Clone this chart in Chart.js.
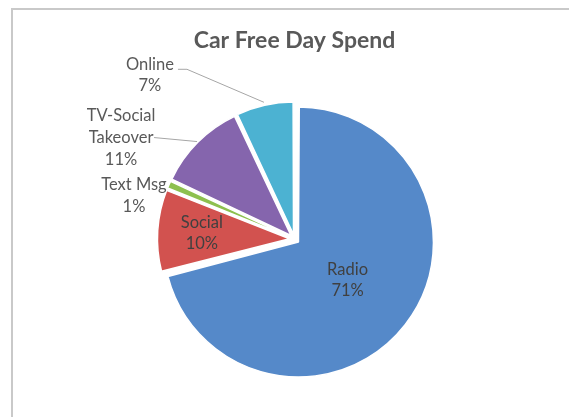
<!DOCTYPE html>
<html>
<head>
<meta charset="utf-8">
<script src="https://cdn.jsdelivr.net/npm/chart.js@4"></script>
<style>
html, body { margin: 0; padding: 0; background: #fff; overflow: hidden; }
#frame { position: absolute; left: 11px; top: 8px; width: 640px; height: 500px; border: 2px solid #c9c9c9; }
#wrap { position: absolute; left: 0; top: 0; width: 569px; height: 417px; }
</style>
</head>
<body>
<div id="frame"></div>
<div id="wrap"><canvas id="pie"></canvas></div>
<script>
const categories = ['Radio', 'Social', 'Text Msg', 'TV-Social Takeover', 'Online'];
const spend = [71, 10, 1, 11, 7];
const labelLines = [['Radio'], ['Social'], ['Text Msg'], ['TV-Social', 'Takeover'], ['Online']];

const colors = ['#5589c9', '#d2524f', '#8dc04e', '#8565ad', '#4cb2d2'];
const explode = [20, 20, 14, 20, 18];

// where each label sits: inside = fraction of the radius along the slice middle,
// outside = text block offset from the point on the rim, plus leader start
const labelPlace = [
    { inside: 0.44 },
    { inside: 0.66 },
    { rim: 0, text: [-35, 11], lead: null },
    { rim: 1, text: [-76, -4], lead: [[-43, -4]] },
    { rim: 3, text: [-114, -27], lead: [[-86, -33], [-77, -33]] }
];

const FONT = 'Lato, "Open Sans", sans-serif';
const LINE_H = 21.7;

const labelPlugin = {
    id: 'pieLabels',
    afterDatasetsDraw(chart) {
        const ctx = chart.ctx;
        const meta = chart.getDatasetMeta(0);
        const total = spend.reduce((a, b) => a + b, 0);

        // titulo
        ctx.save();
        ctx.font = 'bold 23px ' + FONT;
        ctx.fillStyle = '#595959';
        ctx.textAlign = 'center';
        ctx.textBaseline = 'alphabetic';
        ctx.fillText('Car Free Day Spend', meta.data[0].x, 48);
        ctx.restore();

        meta.data.forEach((arc, i) => {
            const p = arc.getProps(['x', 'y', 'startAngle', 'endAngle', 'outerRadius', 'circumference']);
            const mid = (p.startAngle + p.endAngle) / 2;
            // same shift Chart.js uses for the offset
            const off = explode[i] / 4;
            const fix = 1 - Math.sin(Math.min(Math.PI, p.circumference));
            const shift = off + off * fix;
            const cx = p.x + Math.cos(mid) * shift;
            const cy = p.y + Math.sin(mid) * shift;

            const pct = Math.round(spend[i] / total * 100) + '%';
            const lines = labelLines[i].concat([pct]);
            const place = labelPlace[i];

            let tx, ty;
            ctx.save();
            ctx.font = '16.5px ' + FONT;
            ctx.textAlign = 'center';
            ctx.textBaseline = 'middle';

            if (place.inside !== undefined) {
                tx = cx + Math.cos(mid) * p.outerRadius * place.inside;
                ty = cy + Math.sin(mid) * p.outerRadius * place.inside;
                ctx.fillStyle = '#404040';
            } else {
                const ex = cx + Math.cos(mid) * (p.outerRadius + place.rim);
                const ey = cy + Math.sin(mid) * (p.outerRadius + place.rim);
                tx = ex + place.text[0];
                ty = ey + place.text[1];
                if (place.lead) {
                    ctx.strokeStyle = '#a6a6a6';
                    ctx.lineWidth = 1;
                    ctx.beginPath();
                    ctx.moveTo(ex + place.lead[0][0], ey + place.lead[0][1]);
                    place.lead.slice(1).forEach(pt => ctx.lineTo(ex + pt[0], ey + pt[1]));
                    ctx.lineTo(ex, ey);
                    ctx.stroke();
                }
                ctx.fillStyle = '#595959';
            }

            const top = ty - (lines.length - 1) * LINE_H / 2;
            lines.forEach((txt, k) => ctx.fillText(txt, tx, top + k * LINE_H));
            ctx.restore();
        });
    }
};

new Chart(document.getElementById('pie'), {
    type: 'pie',
    data: {
        labels: categories,
        datasets: [{
            data: spend,
            backgroundColor: colors,
            borderColor: '#ffffff',
            borderWidth: 1.5,
            offset: explode
        }]
    },
    options: {
        responsive: true,
        maintainAspectRatio: false,
        animation: false,
        radius: 130,
        layout: { padding: { left: 20, right: 0, top: 61, bottom: 0 } },
        plugins: {
            legend: { display: false },
            title: { display: false },
            tooltip: { enabled: false }
        }
    },
    plugins: [labelPlugin]
});
</script>
</body>
</html>
